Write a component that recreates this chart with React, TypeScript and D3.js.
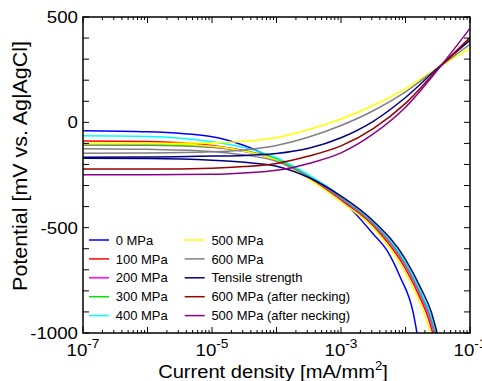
import React from "react";
import * as d3 from "d3";

const W = 482;
const H = 381;
const PLOT = { left: 83, right: 470, top: 17, bottom: 333 };

const X_DOMAIN = [1e-7, 1e-1];
const Y_DOMAIN = [-1000, 500];
const X_LABEL_EXPONENTS = [-7, -5, -3, -1];
const Y_TICK_LABELS = [500, 0, -500, -1000];

const SERIES = [
  "0 MPa",
  "100 MPa",
  "200 MPa",
  "300 MPa",
  "400 MPa",
  "500 MPa",
  "600 MPa",
  "Tensile strength",
  "600 MPa (after necking)",
  "500 MPa (after necking)",
];
const COLORS = [
  "#0000ff",
  "#ff0000",
  "#ff00ff",
  "#00e600",
  "#00ffff",
  "#ffff00",
  "#808080",
  "#000080",
  "#990000",
  "#8b008b",
];

// Cathodic branches: [log10(current density), potential mV]
const cath0 = [[-7,-40],[-6,-45],[-5,-68],[-4.5,-110],[-4,-179],[-3.5,-265],[-3,-365],[-2.5,-530],[-2.29,-607],[-2.085,-733],[-1.879,-906],[-1.822,-1000]];
const cath100 = [[-7,-89],[-6,-91],[-5,-110],[-4.5,-135],[-4,-175],[-3.5,-262],[-3,-368],[-2.5,-491],[-2,-695],[-1.75,-850],[-1.66,-917],[-1.578,-1000]];
const cath200 = [[-7,-108],[-6,-109],[-5,-118],[-4.5,-138],[-4,-178],[-3.5,-258],[-3,-363],[-2.5,-484],[-2,-681],[-1.75,-834],[-1.65,-905],[-1.554,-1000]];
const cath300 = [[-7,-105],[-6,-106],[-5,-116],[-4.5,-136],[-4,-175],[-3.5,-255],[-3,-358],[-2.5,-479],[-2,-671],[-1.75,-821],[-1.63,-906],[-1.536,-1000]];
const cath400 = [[-7,-64],[-6,-67],[-5,-92],[-4.5,-120],[-4,-168],[-3.5,-250],[-3,-352],[-2.5,-475],[-2,-663],[-1.75,-813],[-1.62,-903],[-1.523,-1000]];
const cath500 = [[-7,-100],[-6,-101],[-5,-113],[-4.5,-137],[-4,-180],[-3.5,-268],[-3,-377],[-2.5,-502],[-2,-715],[-1.75,-875],[-1.68,-933],[-1.613,-1000]];
const cath600 = [[-7,-125],[-6,-128],[-5,-138],[-4.5,-155],[-4,-185],[-3.5,-258],[-3,-361],[-2.5,-482],[-2,-677],[-1.75,-829],[-1.64,-906],[-1.547,-1000]];
const cathTensile = [[-7,-171],[-6,-172],[-5,-180],[-4.5,-190],[-4,-208],[-3.5,-262],[-3,-350],[-2.5,-468],[-2,-650],[-1.75,-795],[-1.6,-900],[-1.51,-1000]];

// Anodic branches
const an500 = [[-7,-100],[-6,-100],[-5,-97],[-4.5,-90],[-4,-72],[-3.5,-34],[-3,16],[-2.5,80],[-2,160],[-1.5,258],[-1,352]];
const an600 = [[-7,-147],[-6,-146],[-5,-140],[-4.5,-131],[-4,-110],[-3.5,-70],[-3,-15],[-2.5,55],[-2,145],[-1.5,258],[-1,370]];
const anTensile = [[-7,-166],[-6,-165],[-5,-160],[-4.5,-157],[-4,-148],[-3.5,-123],[-3,-73],[-2.5,5],[-2,118],[-1.5,258],[-1,390]];
const an600n = [[-7,-222],[-6,-222],[-5,-218],[-4.5,-210],[-4,-195],[-3.5,-160],[-3,-112],[-2.5,-30],[-2,90],[-1.5,252],[-1,402]];
const an500n = [[-7,-249],[-6,-249],[-5,-247],[-4.5,-240],[-4,-228],[-3.5,-195],[-3,-145],[-2.5,-55],[-2,72],[-1.5,250],[-1,446]];

const BRANCHES: [number, number[][]][] = [
  [0, cath0],
  [1, cath100],
  [2, cath200],
  [3, cath300],
  [4, cath400],
  [5, cath500],
  [5, an500],
  [6, cath600],
  [6, an600],
  [7, cathTensile],
  [7, anTensile],
  [8, an600n],
  [9, an500n],
];

export default function App() {
  const x = d3.scaleLog().domain(X_DOMAIN).range([PLOT.left, PLOT.right]);
  const y = d3.scaleLinear().domain(Y_DOMAIN).range([PLOT.bottom, PLOT.top]);
  const line = d3
    .line<number[]>()
    .x((d) => x(Math.pow(10, d[0])))
    .y((d) => y(d[1]))
    .curve(d3.curveMonotoneX);

  const xMajor = d3.range(-7, 0).map((e) => Math.pow(10, e));
  const xMinor: number[] = [];
  for (let e = -7; e < -1; e++) for (let k = 2; k <= 9; k++) xMinor.push(k * Math.pow(10, e));
  const yTicks = d3.range(-1000, 501, 100);

  const font = "Arial, 'Liberation Sans', sans-serif";
  const sx = 1.1;

  return (
    <svg width={W} height={H} style={{ position: "absolute", left: 0, top: 0, background: "#fff" }} fontFamily={font}>
      <defs>
        <clipPath id="plotclip">
          <rect x={PLOT.left} y={PLOT.top} width={PLOT.right - PLOT.left} height={PLOT.bottom - PLOT.top} />
        </clipPath>
      </defs>
      <rect width={W} height={H} fill="#fff" />
      <g clipPath="url(#plotclip)">
        {BRANCHES.map(([si, pts], i) => (
          <path key={i} d={line(pts) || ""} fill="none" stroke={COLORS[si]} strokeWidth={1.5} />
        ))}
      </g>
      {/* ticks */}
      <g stroke="#000" strokeWidth={1}>
        {xMajor.map((v, i) => (
          <g key={"xm" + i}>
            <line x1={x(v)} x2={x(v)} y1={PLOT.bottom} y2={PLOT.bottom - 6} />
            <line x1={x(v)} x2={x(v)} y1={PLOT.top} y2={PLOT.top + 6} />
          </g>
        ))}
        {xMinor.map((v, i) => (
          <g key={"xn" + i}>
            <line x1={x(v)} x2={x(v)} y1={PLOT.bottom} y2={PLOT.bottom - 3} />
            <line x1={x(v)} x2={x(v)} y1={PLOT.top} y2={PLOT.top + 3} />
          </g>
        ))}
        {yTicks.map((v, i) => (
          <g key={"y" + i}>
            <line x1={PLOT.left} x2={PLOT.left + 6} y1={y(v)} y2={y(v)} />
            <line x1={PLOT.right} x2={PLOT.right - 6} y1={y(v)} y2={y(v)} />
          </g>
        ))}
      </g>
      <rect x={PLOT.left} y={PLOT.top} width={PLOT.right - PLOT.left} height={PLOT.bottom - PLOT.top} fill="none" stroke="#000" strokeWidth={1.5} />
      {/* y tick labels */}
      {Y_TICK_LABELS.map((v) => (
        <g key={"yl" + v} transform={`translate(${PLOT.left - 5},${y(v) + 6}) scale(${sx},1)`}>
          <text textAnchor="end" fontSize={17} fill="#000">{v}</text>
        </g>
      ))}
      {/* x tick labels */}
      {X_LABEL_EXPONENTS.map((e) => (
        <g key={"xl" + e} transform={`translate(${x(Math.pow(10, e))},356) scale(${sx},1)`}>
          <text textAnchor="middle" fontSize={17} fill="#000">
            10<tspan fontSize={12.5} dy={-8}>{e}</tspan>
          </text>
        </g>
      ))}
      {/* axis titles */}
      <g transform={`translate(273,378) scale(${sx},1)`}>
        <text textAnchor="middle" fontSize={18.3} fill="#000">
          Current density [mA/mm<tspan fontSize={12} dy={-8}>2</tspan><tspan dy={8}>]</tspan>
        </text>
      </g>
      <g transform={`translate(27,166) rotate(-90) scale(${sx},1)`}>
        <text textAnchor="middle" fontSize={19.5} fill="#000">Potential [mV vs. Ag|AgCl]</text>
      </g>
      {/* legend */}
      {SERIES.map((name, i) => {
        const col = Math.floor(i / 5);
        const row = i % 5;
        const lx = col === 0 ? 89 : 184.7;
        const ly = 240 + row * 18.9;
        return (
          <g key={"lg" + i}>
            <line x1={lx} x2={lx + 20} y1={ly} y2={ly} stroke={COLORS[i]} strokeWidth={1.5} />
            <text x={lx + 26.7} y={ly + 4.6} fontSize={13} fill="#000">{name}</text>
          </g>
        );
      })}
    </svg>
  );
}
